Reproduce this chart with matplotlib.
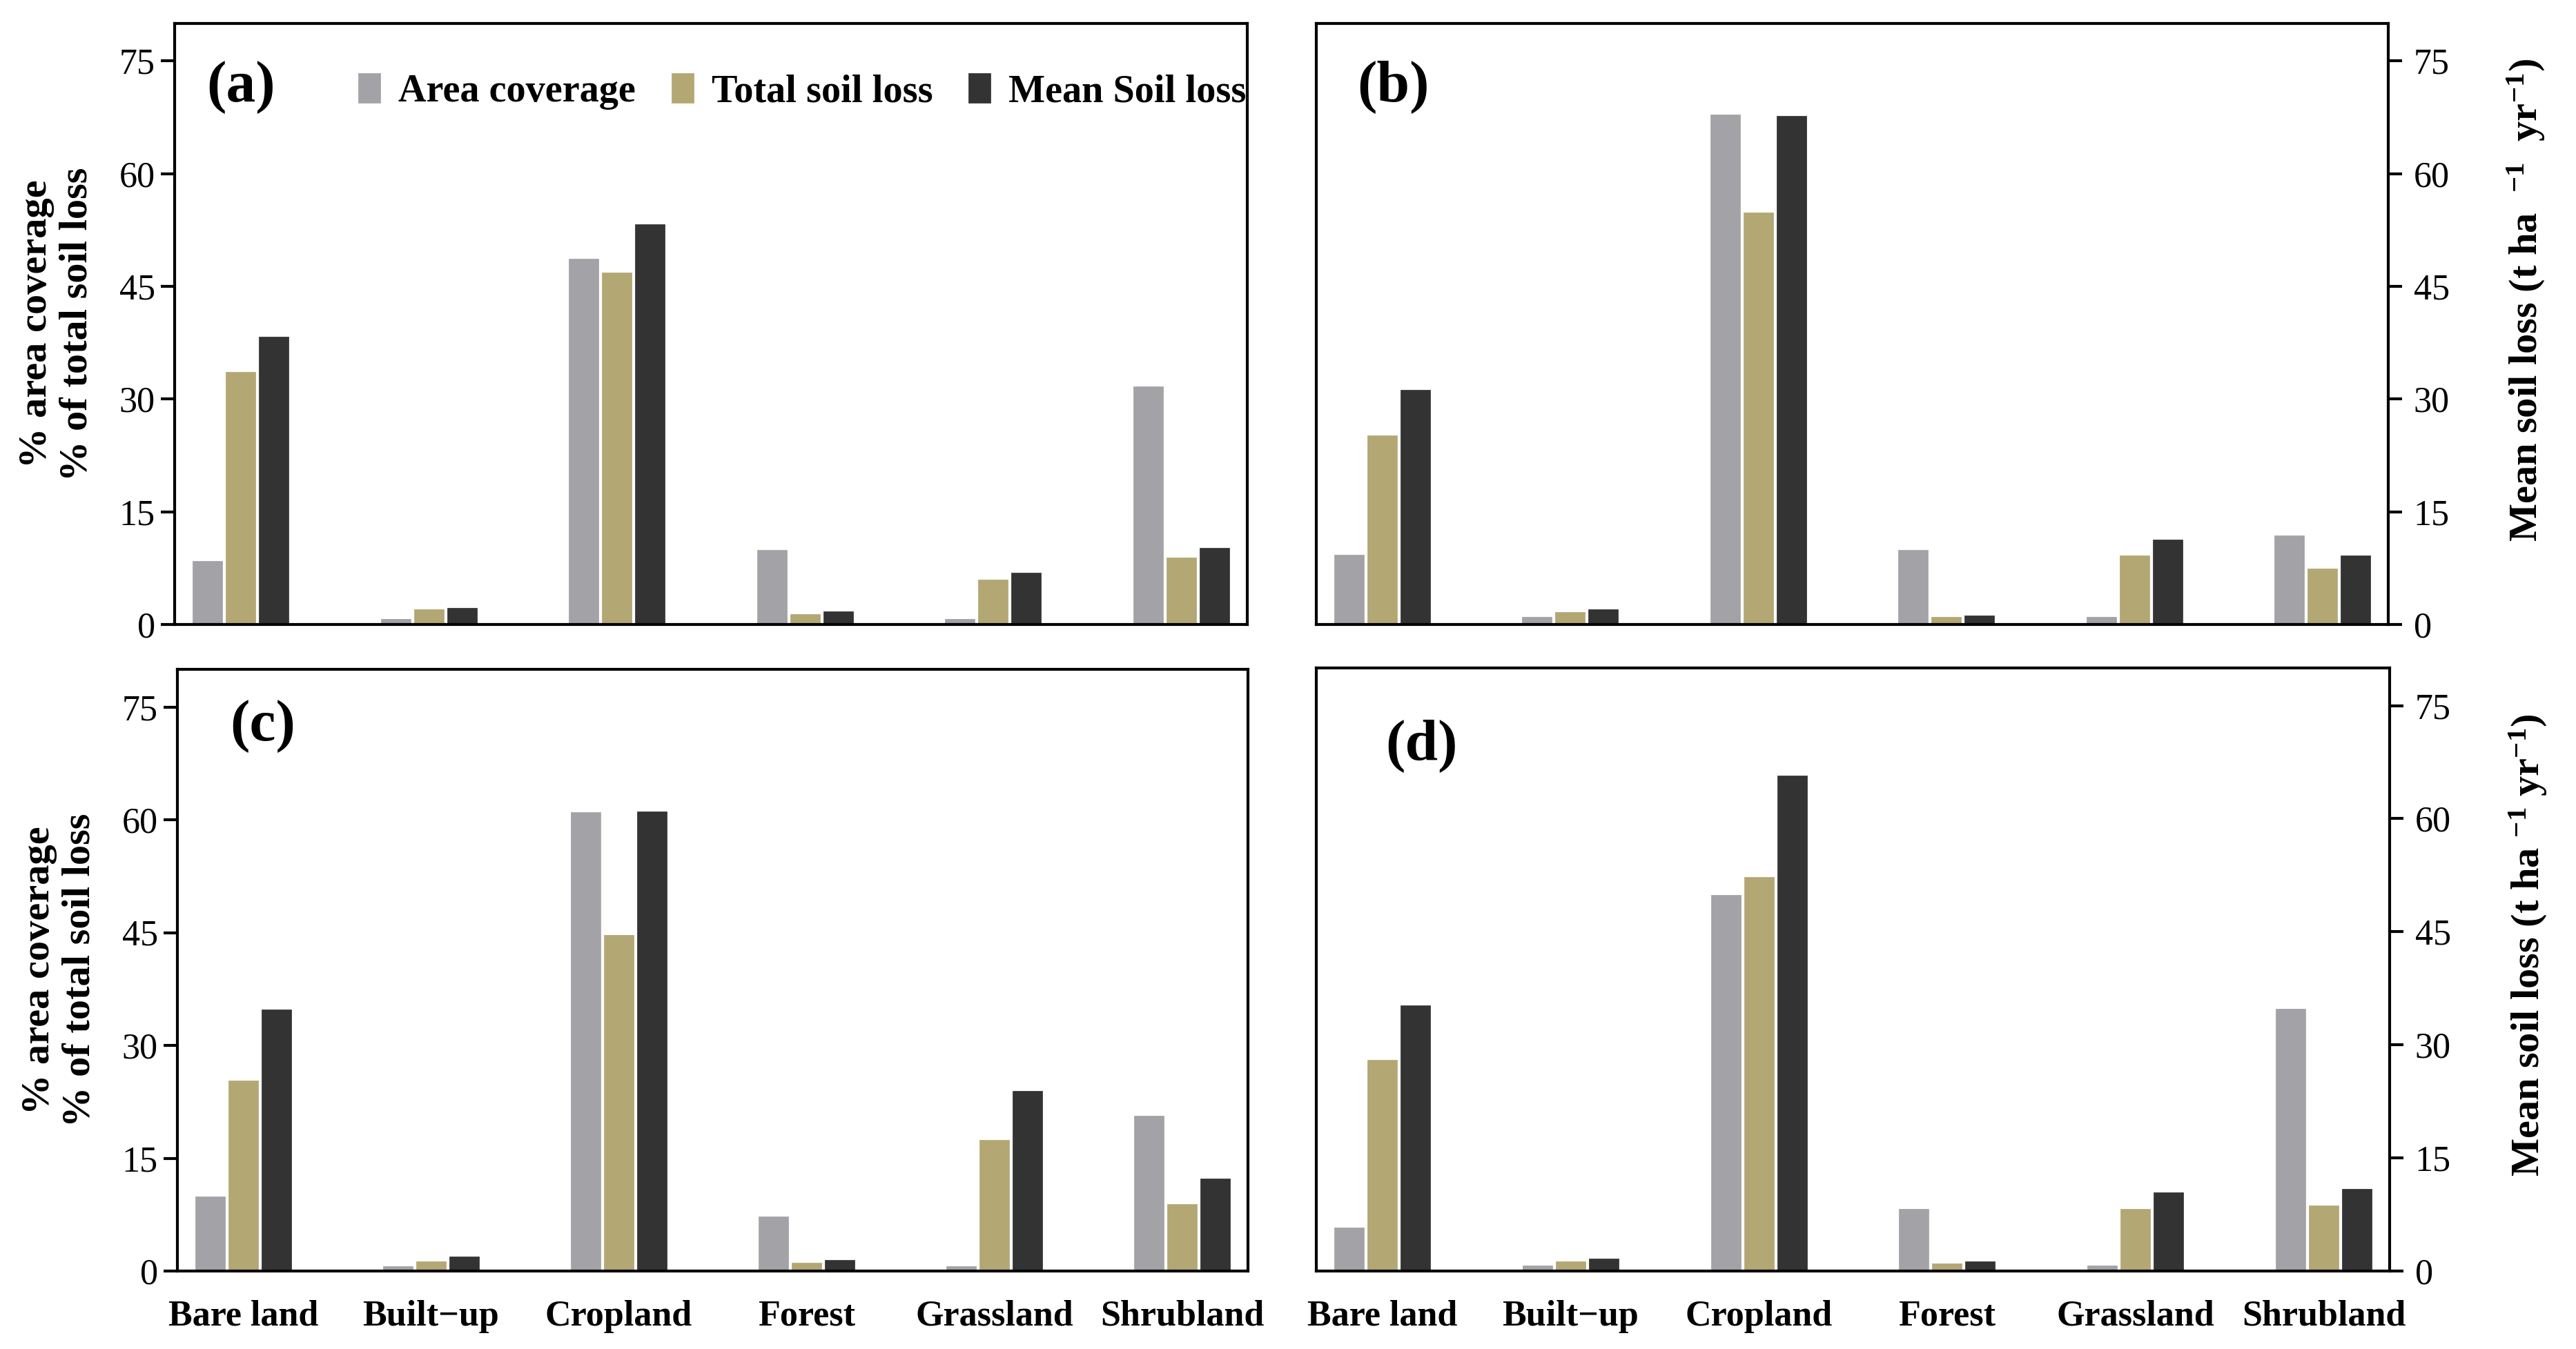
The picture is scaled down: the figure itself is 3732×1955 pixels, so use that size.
import numpy as np
import matplotlib
matplotlib.use("Agg")
import matplotlib.pyplot as plt

plt.rcParams['font.family'] = ['Liberation Serif', 'DejaVu Serif']
plt.rcParams['mathtext.default'] = 'regular'

# land cover classes
categories = ["Bare land", "Built\u2212up", "Cropland", "Forest", "Grassland", "Shrubland"]
series_names = ["Area coverage", "Total soil loss", "Mean Soil loss"]
colors = ["#a3a3a7", "#b3a774", "#333333"]

# panel (a)
area_a = [8.5, 0.8, 48.8, 10.0, 0.8, 31.8]
total_a = [33.7, 2.1, 46.9, 1.5, 6.1, 9.0]
mean_a = [38.4, 2.3, 53.4, 1.8, 7.0, 10.3]
# panel (b)
area_b = [9.4, 1.1, 68.0, 10.0, 1.1, 11.9]
total_b = [25.3, 1.7, 54.9, 1.1, 9.3, 7.5]
mean_b = [31.3, 2.1, 67.8, 1.3, 11.4, 9.3]
# panel (c)
area_c = [10.0, 0.7, 61.1, 7.3, 0.7, 20.7]
total_c = [25.4, 1.4, 44.8, 1.2, 17.5, 9.0]
mean_c = [34.9, 2.0, 61.2, 1.6, 24.0, 12.4]
# panel (d)
area_d = [5.9, 0.8, 50.0, 8.3, 0.8, 34.9]
total_d = [28.1, 1.4, 52.4, 1.1, 8.3, 8.8]
mean_d = [35.3, 1.7, 65.8, 1.4, 10.5, 11.0]

yticks = [0, 15, 30, 45, 60, 75]

fig = plt.figure(figsize=(3732 / 300, 1955 / 300), dpi=300)

W, H = 3732.0, 1955.0
boxes = {
    "a": [253, 34, 1807, 905],
    "b": [1907, 34, 3460, 905],
    "c": [257, 970, 1808, 1842],
    "d": [1907, 968, 3462, 1842],
}
panel_data = {
    "a": (area_a, total_a, mean_a),
    "b": (area_b, total_b, mean_b),
    "c": (area_c, total_c, mean_c),
    "d": (area_d, total_d, mean_d),
}
label_pos = {"a": (0.062, 0.894), "b": (0.072, 0.894), "c": (0.08, 0.905), "d": (0.098, 0.87)}

x = np.arange(len(categories))
w = 0.165
step = 0.176

axes = {}
for key, (x0, y0, x1, y1) in boxes.items():
    ax = fig.add_axes([x0 / W, 1 - y1 / H, (x1 - x0) / W, (y1 - y0) / H])
    axes[key] = ax
    vals = panel_data[key]
    for i, v in enumerate(vals):
        ax.bar(x + (i - 1) * step, v, width=w, color=colors[i], label=series_names[i],
               edgecolor='white', linewidth=0.3)
    ax.set_xlim(-0.35, 5.35)
    ax.set_ylim(0, 80)
    ax.set_yticks(yticks)
    ax.set_xticks(x)
    for sp in ax.spines.values():
        sp.set_linewidth(1.0)
        sp.set_color('black')
    ax.tick_params(axis='y', direction='out', length=4.8, width=1.0, labelsize=12.5, pad=2)
    ax.tick_params(axis='x', length=0, pad=10)
    if key in ("a", "b"):
        ax.set_xticklabels([])
    else:
        ax.set_xticklabels(categories, fontsize=12.5, fontweight='bold')
    ax.text(label_pos[key][0], label_pos[key][1], "(%s)" % key, transform=ax.transAxes,
            fontsize=20.5, fontweight='bold', ha='center', va='center')

    if key in ("a", "c"):
        ax.set_ylabel("% area coverage\n% of total soil loss", fontsize=14, fontweight='bold',
                      va='center', ha='center', linespacing=1.15)
        ax.yaxis.set_label_coords(-0.110, 0.5)
    else:
        ax.yaxis.tick_right()
        ax.tick_params(axis='y', pad=4)
        ax.yaxis.set_label_position('right')
        if key == "b":
            lab = "Mean soil loss (t ha  $^{-1}$  yr$^{-1}$)"
        else:
            lab = "Mean soil loss (t ha $^{-1}$ yr$^{-1}$)"
        ax.set_ylabel(lab, fontsize=14, fontweight='bold', rotation=90, va='center', ha='center')
        ax.yaxis.set_label_coords(1.129, 0.54)

axes["a"].legend(ncol=3, loc='center', bbox_to_anchor=(0.585, 0.887), frameon=False,
                 prop={'family': 'Liberation Serif', 'weight': 'bold', 'size': 13.5},
                 handlelength=0.6, handleheight=0.85, handletextpad=0.45,
                 columnspacing=0.9, borderaxespad=0)

fig.savefig("out.png", dpi=300)
